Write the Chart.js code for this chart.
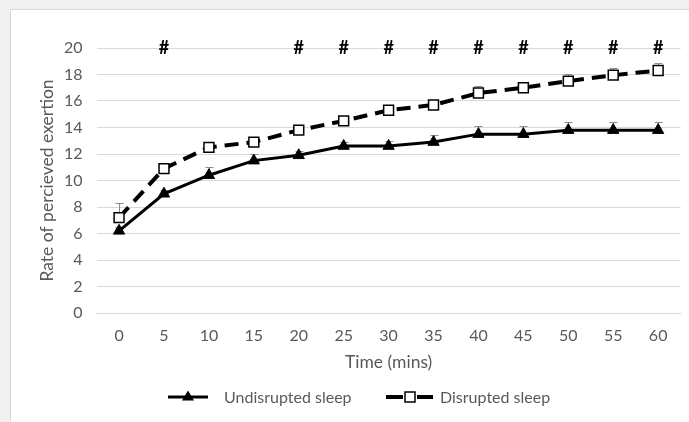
<!DOCTYPE html>
<html>
<head>
<meta charset="utf-8">
<script src="https://cdn.jsdelivr.net/npm/chart.js@4"></script>
<style>
  html, body { margin: 0; padding: 0; background: #f0f0f0; width: 689px; height: 422px; overflow: hidden; }
  #frame { position: absolute; left: 10px; top: 9px; width: 679px; height: 413px; background: #fff;
           border-left: 1px solid #d9d9d9; border-top: 1px solid #d9d9d9; }
  canvas { display: block; }
</style>
</head>
<body>
<div id="frame"><canvas id="c" width="679" height="413"></canvas></div>
<script>
const categories = ['0','5','10','15','20','25','30','35','40','45','50','55','60'];
const undisrupted    = [6.2, 9.0, 10.4, 11.5, 11.9, 12.6, 12.6, 12.9, 13.5, 13.5, 13.8, 13.8, 13.8];
const undisruptedErr = [0.3, 0.3, 0.6, 0.5, 0.3, 0.3, 0.4, 0.5, 0.65, 0.65, 0.6, 0.6, 0.6];
const disrupted      = [7.2, 10.9, 12.5, 12.9, 13.8, 14.5, 15.3, 15.7, 16.6, 17.0, 17.5, 17.95, 18.3];
const disruptedErr   = [1.1, 0.3, 0.3, 0.3, 0.3, 0.3, 0.3, 0.3, 0.5, 0.3, 0.55, 0.55, 0.55];
const hashMarks = ['5','20','25','30','35','40','45','50','55','60'];
const hashLevel = 20;
const seriesNames = ['Undisrupted sleep', 'Disrupted sleep'];
const xTitle = 'Time (mins)';
const yTitle = 'Rate of percieved exertion';

const FONT = 'Lato, "Open Sans", sans-serif';
const TXT = '#595959';

const errorBars = {
  id: 'errorBars',
  beforeDatasetsDraw(chart) {
    const {ctx, scales: {x, y}} = chart;
    const errs = [undisruptedErr, disruptedErr];
    ctx.save();
    ctx.strokeStyle = '#8c8c8c';
    ctx.lineWidth = 1;
    chart.data.datasets.forEach((ds, di) => {
      ds.data.forEach((v, i) => {
        const px = Math.round(x.getPixelForValue(i)) + 0.5;
        const y0 = y.getPixelForValue(v);
        const y1 = Math.round(y.getPixelForValue(v + errs[di][i])) + 0.5;
        ctx.beginPath();
        ctx.moveTo(px, y0); ctx.lineTo(px, y1);
        ctx.moveTo(px - 4, y1); ctx.lineTo(px + 4, y1);
        ctx.stroke();
      });
    });
    ctx.restore();
  }
};

const hashes = {
  id: 'hashes',
  afterDatasetsDraw(chart) {
    const {ctx, scales: {x, y}} = chart;
    ctx.save();
    ctx.font = 'bold 18px ' + FONT;
    ctx.fillStyle = '#000';
    ctx.textAlign = 'center';
    ctx.textBaseline = 'middle';
    hashMarks.forEach(c => {
      const i = categories.indexOf(c);
      ctx.fillText('#', x.getPixelForValue(i), y.getPixelForValue(hashLevel));
    });
    ctx.restore();
  }
};

const customLegend = {
  id: 'customLegend',
  afterDraw(chart) {
    const {ctx} = chart;
    const cy = 387;
    ctx.save();
    ctx.font = '16px ' + FONT;
    ctx.textBaseline = 'middle';
    // Undisrupted
    ctx.strokeStyle = '#000'; ctx.lineWidth = 3;
    ctx.beginPath(); ctx.moveTo(157, cy); ctx.lineTo(197, cy); ctx.stroke();
    ctx.fillStyle = '#000';
    ctx.beginPath(); ctx.moveTo(177, cy - 6.5); ctx.lineTo(183, cy + 3.5); ctx.lineTo(171, cy + 3.5); ctx.closePath(); ctx.fill();
    ctx.fillStyle = TXT;
    ctx.fillText(seriesNames[0], 213, cy + 1);
    // Disrupted
    ctx.lineWidth = 4;
    ctx.beginPath(); ctx.moveTo(375, cy); ctx.lineTo(392, cy); ctx.moveTo(406, cy); ctx.lineTo(422, cy); ctx.stroke();
    ctx.fillStyle = '#fff'; ctx.lineWidth = 1.5;
    ctx.fillRect(394, cy - 5, 10, 10); ctx.strokeRect(394, cy - 5, 10, 10);
    ctx.fillStyle = TXT;
    ctx.fillText(seriesNames[1], 429, cy + 1);
    ctx.restore();
  }
};

new Chart(document.getElementById('c'), {
  type: 'line',
  data: {
    labels: categories,
    datasets: [
      {
        label: seriesNames[0], data: undisrupted,
        borderColor: '#000', backgroundColor: '#000', borderWidth: 3,
        pointStyle: 'triangle', pointRadius: 6.5, pointBackgroundColor: '#000', pointBorderColor: '#000', pointBorderWidth: 1,
        tension: 0
      },
      {
        label: seriesNames[1], data: disrupted,
        borderColor: '#000', backgroundColor: '#fff', borderWidth: 4, borderDash: [14, 8],
        pointStyle: 'rect', pointRadius: 7, pointBackgroundColor: '#fff', pointBorderColor: '#000', pointBorderWidth: 1.5,
        tension: 0
      }
    ]
  },
  options: {
    responsive: false,
    animation: false,
    devicePixelRatio: 1,
    layout: { padding: { left: 0, right: 9.4, top: 38, bottom: 50 } },
    plugins: { legend: { display: false }, tooltip: { enabled: false } },
    scales: {
      x: {
        offset: true,
        grid: { display: false, drawTicks: false },
        border: { display: true, color: '#d9d9d9', width: 1 },
        ticks: { color: TXT, font: { family: FONT, size: 16 }, padding: 13, maxRotation: 0 },
        title: { display: true, text: xTitle, color: TXT, font: { family: FONT, size: 17.5 }, padding: { top: 0, bottom: 0 } },
        afterFit(s) { s.height = 60; }
      },
      y: {
        min: 0, max: 20,
        grid: { color: '#d9d9d9', drawTicks: false, lineWidth: 1 },
        border: { display: false },
        ticks: { stepSize: 2, color: TXT, font: { family: FONT, size: 16 }, padding: 14 },
        title: { display: true, text: yTitle, color: TXT, font: { family: FONT, size: 17.5 }, padding: { top: 26, bottom: 0 } },
        afterFit(s) { s.width = 85.6; }
      }
    }
  },
  plugins: [errorBars, hashes, customLegend]
});
</script>
</body>
</html>
